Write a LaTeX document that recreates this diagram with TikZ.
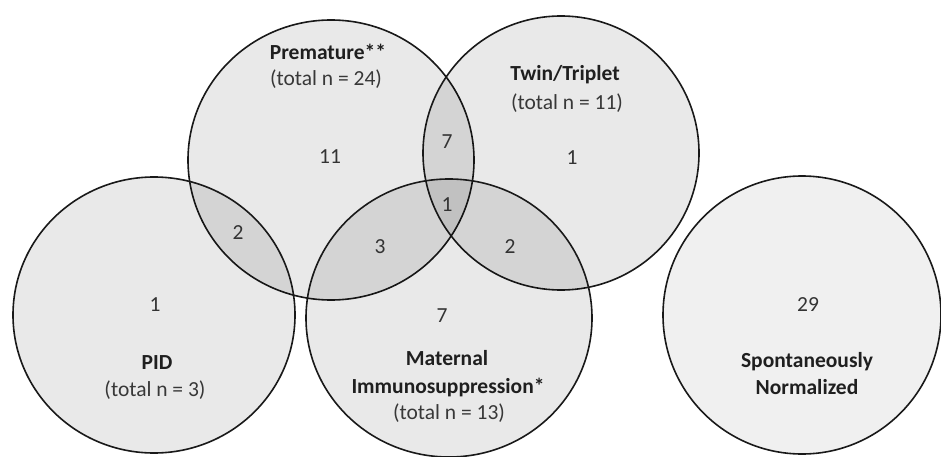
\documentclass[tikz,border=0pt]{standalone}
\usepackage{fontspec}
\setmainfont{Carlito}
\usetikzlibrary{shapes.geometric}
\begin{document}
\begin{tikzpicture}[x=1pt,y=-1pt,
  setshape/.style={ellipse, draw=black!90, line width=1.6pt, fill=black, fill opacity=0.085, text opacity=1, inner sep=0pt},
  lbl/.style={font=\fontsize{21.5}{26}\selectfont\bfseries, text=black!88, inner sep=0pt},
  tot/.style={font=\fontsize{21.5}{26}\selectfont, text=black!78, inner sep=0pt},
  num/.style={font=\fontsize{21.5}{26}\selectfont, text=black!80, inner sep=0pt}]
\useasboundingbox (0,0) rectangle (941,457);
\fill[white] (0,0) rectangle (941,457);
% sets
\node[setshape, minimum width=286pt, minimum height=280pt] (prem) at (331,160) {};
\node[setshape, minimum width=276pt, minimum height=274pt] (twin) at (561,153) {};
\node[setshape, minimum width=282pt, minimum height=276pt] (pid) at (154,315) {};
\node[setshape, minimum width=286pt, minimum height=278pt] (mat) at (449,318) {};
\node[setshape, fill opacity=0.06, minimum width=278pt, minimum height=278pt] (spon) at (802,315) {};
% Premature
\node[lbl] (premname) at (328,52) {Premature**};
\node[tot] (premtot) at (326,79) {(total n = 24)};
\node[num] (premonly) at (330,157) {11};
% Twin
\node[lbl] (twinname) at (565,75) {Twin/Triplet};
\node[tot] (twintot) at (567,103) {(total n = 11)};
\node[num] (twinonly) at (572,158) {1};
% overlaps
\node[num] (pt) at (447,142) {7};
\node[num] (ptm) at (447,205) {1};
\node[num] (pp) at (238,233) {2};
\node[num] (pm) at (380,247) {3};
\node[num] (tm) at (510,247) {2};
% PID
\node[num] (pidonly) at (155,305) {1};
\node[lbl] (pidname) at (157,363) {PID};
\node[tot] (pidtot) at (155,390) {(total n = 3)};
% Maternal
\node[num] (matonly) at (442,316) {7};
\node[lbl] (matname1) at (447,358) {Maternal};
\node[lbl] (matname2) at (448,387) {Immunosuppression*};
\node[tot] (mattot) at (449,413) {(total n = 13)};
% Spontaneous
\node[num] (sponnum) at (808,305) {29};
\node[lbl] (sponname1) at (807,362) {Spontaneously};
\node[lbl] (sponname2) at (807,387) {Normalized};
\end{tikzpicture}
\end{document}
